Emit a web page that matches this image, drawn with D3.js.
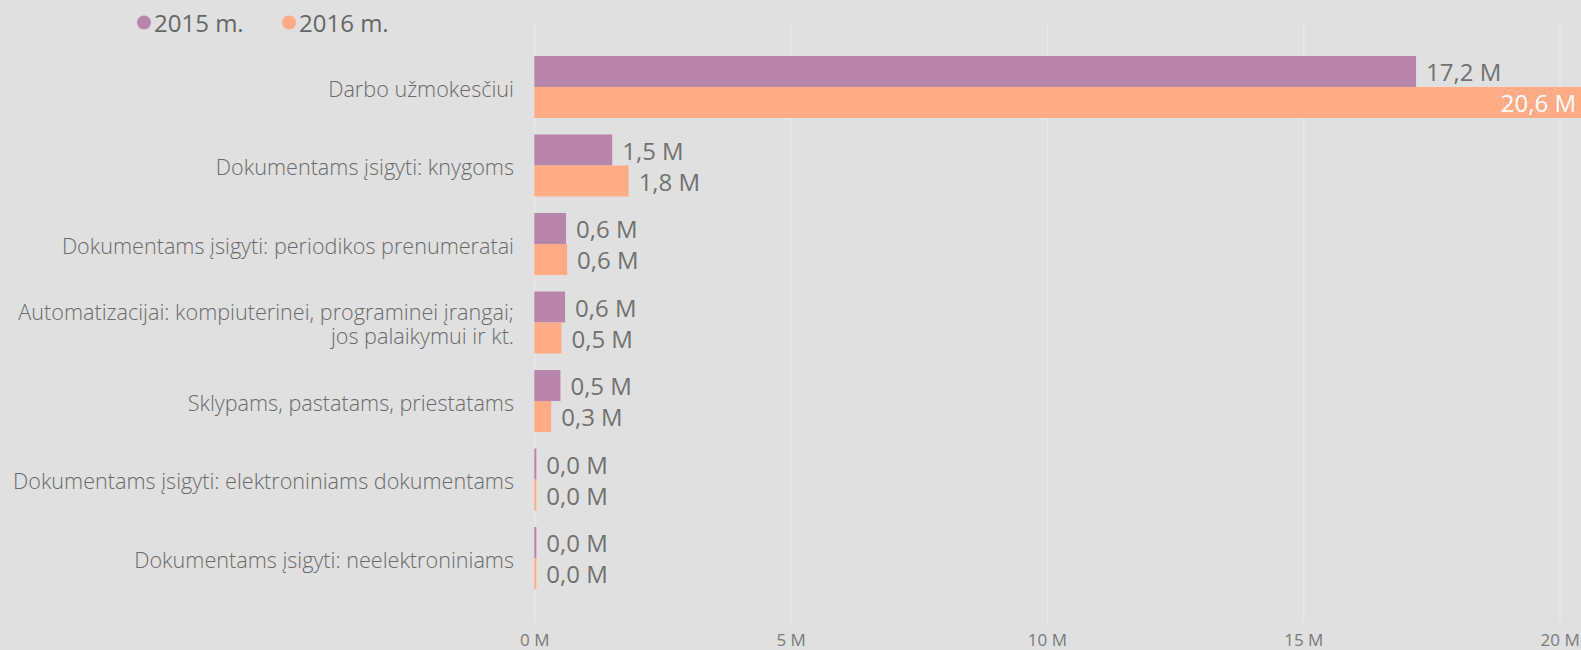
<!DOCTYPE html>
<html>
<head>
<meta charset="utf-8">
<script src="https://cdn.jsdelivr.net/npm/d3@7"></script>
<style>
  html, body { margin: 0; padding: 0; background: #e0e0e0; overflow: hidden; }
  svg { display: block; font-family: "Open Sans", sans-serif; }
</style>
</head>
<body>
<svg id="chart" width="1581" height="650"></svg>
<script>
const categories = [
  ["Darbo užmokesčiui"],
  ["Dokumentams įsigyti: knygoms"],
  ["Dokumentams įsigyti: periodikos prenumeratai"],
  ["Automatizacijai: kompiuterinei, programinei įrangai;", "jos palaikymui ir kt."],
  ["Sklypams, pastatams, priestatams"],
  ["Dokumentams įsigyti: elektroniniams dokumentams"],
  ["Dokumentams įsigyti: neelektroniniams"]
];
const seriesNames = ["2015 m.", "2016 m."];
const values2015 = [17.2, 1.52, 0.62, 0.60, 0.51, 0.04, 0.04];
const values2016 = [20.6, 1.84, 0.64, 0.53, 0.33, 0.03, 0.03];
const xTicks = [0, 5, 10, 15, 20];
const colors = ["#b886ab", "#ffab85"];

const W = 1581, H = 650;
const svg = d3.select("#chart");

const x = d3.scaleLinear().domain([0, 20]).range([534.3, 1559.6]);
const y = d3.scaleBand().domain(d3.range(categories.length))
  .range([47.76, 597.26]).paddingInner(0.21).paddingOuter(0.105);
const inner = d3.scaleBand().domain([0, 1]).range([0, y.bandwidth()]);

// gridlines
const grid = svg.append("g").attr("transform", "translate(0,622)")
  .call(d3.axisBottom(x).tickValues(xTicks).tickSize(-598).tickFormat(""));
grid.select(".domain").remove();
grid.selectAll("line").attr("stroke", "#e9e9e9").attr("stroke-width", 1.3);

// tick labels
const ax = svg.append("g").attr("transform", "translate(0,646)")
  .call(d3.axisBottom(x).tickValues(xTicks).tickSize(0).tickPadding(0)
    .tickFormat(d => d + " M"));
ax.select(".domain").remove();
ax.selectAll("text").attr("dy", 0).attr("fill", "#7a7a7a")
  .style("font-family", "'Open Sans', sans-serif").style("font-size", "17px");

// category labels
const fmt = v => d3.format(".1f")(v).replace(".", ",") + " M";
const cl = svg.append("g");
categories.forEach((lines, i) => {
  const c = y(i) + y.bandwidth() / 2;
  const n = lines.length;
  const t = cl.append("text").attr("text-anchor", "end")
    .attr("fill", "#6a6a6a").style("font-size", "21.6px").style("font-weight", 300);
  lines.forEach((ln, j) => {
    t.append("tspan").attr("x", 514)
      .attr("y", c + 9.5 + (j - (n - 1) / 2) * 23.5).text(ln);
  });
});

// bars
const data = [values2015, values2016];
const bars = svg.append("g");
data.forEach((vals, s) => {
  vals.forEach((v, i) => {
    const y0 = y(i) + inner(s);
    const h = inner.bandwidth();
    const xe = x(v);
    bars.append("rect").attr("x", x(0)).attr("y", y0)
      .attr("width", Math.max(2, xe - x(0))).attr("height", h).attr("fill", colors[s]);
    const label = fmt(v);
    const outside = xe + 10 + 75 < W;
    bars.append("text")
      .attr("x", outside ? Math.max(xe, x(0) + 2) + 10 : Math.min(xe, W) - 5)
      .attr("y", y0 + h / 2 + 9.5)
      .attr("text-anchor", outside ? "start" : "end")
      .attr("fill", outside ? "#717171" : "#ffffff")
      .style("font-size", "24px").text(label);
  });
});

// legend
const leg = svg.append("g");
const legX = [144, 289];
seriesNames.forEach((nm, s) => {
  leg.append("circle").attr("cx", legX[s]).attr("cy", 22.5).attr("r", 7).attr("fill", colors[s]);
  leg.append("text").attr("x", legX[s] + 10).attr("y", 32.3)
    .attr("fill", "#666").style("font-size", "24px").text(nm);
});
</script>
</body>
</html>
